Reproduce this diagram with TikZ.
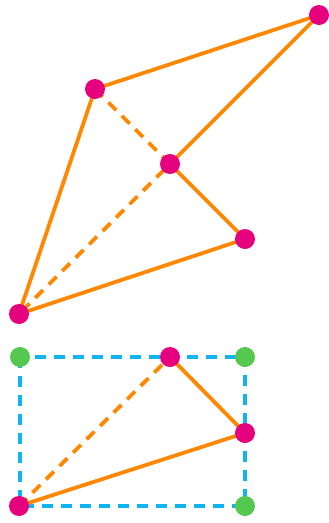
\documentclass[tikz,border=0pt]{standalone}
\definecolor{dotpink}{HTML}{E5007D}
\definecolor{edgeorange}{HTML}{FF8800}
\definecolor{boxcyan}{HTML}{10B4F0}
\definecolor{dotgreen}{HTML}{55C94F}
\begin{document}
\begin{tikzpicture}[x=1pt,y=-1pt,
  pdot/.style={circle,fill=dotpink,inner sep=0pt,minimum size=20pt},
  gdot/.style={circle,fill=dotgreen,inner sep=0pt,minimum size=20pt},
  edge/.style={draw=edgeorange,line width=3.8pt},
  hidden/.style={edge,dash pattern=on 11pt off 8pt},
  frame/.style={draw=boxcyan,line width=3.8pt,dash pattern=on 11pt off 8pt}]
\useasboundingbox (0,0) rectangle (329,523);
% upper figure
\coordinate (A) at (319,15);
\coordinate (B) at (95,89);
\coordinate (C) at (170,164);
\coordinate (D) at (245,239);
\coordinate (E) at (19,314);
\draw[edge] (B) -- (A) -- (C) -- (D) -- (E) -- cycle;
\draw[hidden] (B) -- (C) -- (E);
\node[pdot] (a) at (A) {};
\node[pdot] (b) at (B) {};
\node[pdot] (c) at (C) {};
\node[pdot] (d) at (D) {};
\node[pdot] (e) at (E) {};
% lower figure
\coordinate (G1) at (20,357);
\coordinate (G2) at (245,357);
\coordinate (G3) at (245,506);
\coordinate (P1) at (170,357);
\coordinate (P2) at (245,433);
\coordinate (P3) at (19,506);
\draw[frame] (G1) rectangle (G3);
\draw[edge] (P1) -- (P2) -- (P3);
\draw[hidden] (P3) -- (P1);
\node[gdot] (g1) at (G1) {};
\node[gdot] (g2) at (G2) {};
\node[gdot] (g3) at (G3) {};
\node[pdot] (p1) at (P1) {};
\node[pdot] (p2) at (P2) {};
\node[pdot] (p3) at (P3) {};
\end{tikzpicture}
\end{document}
